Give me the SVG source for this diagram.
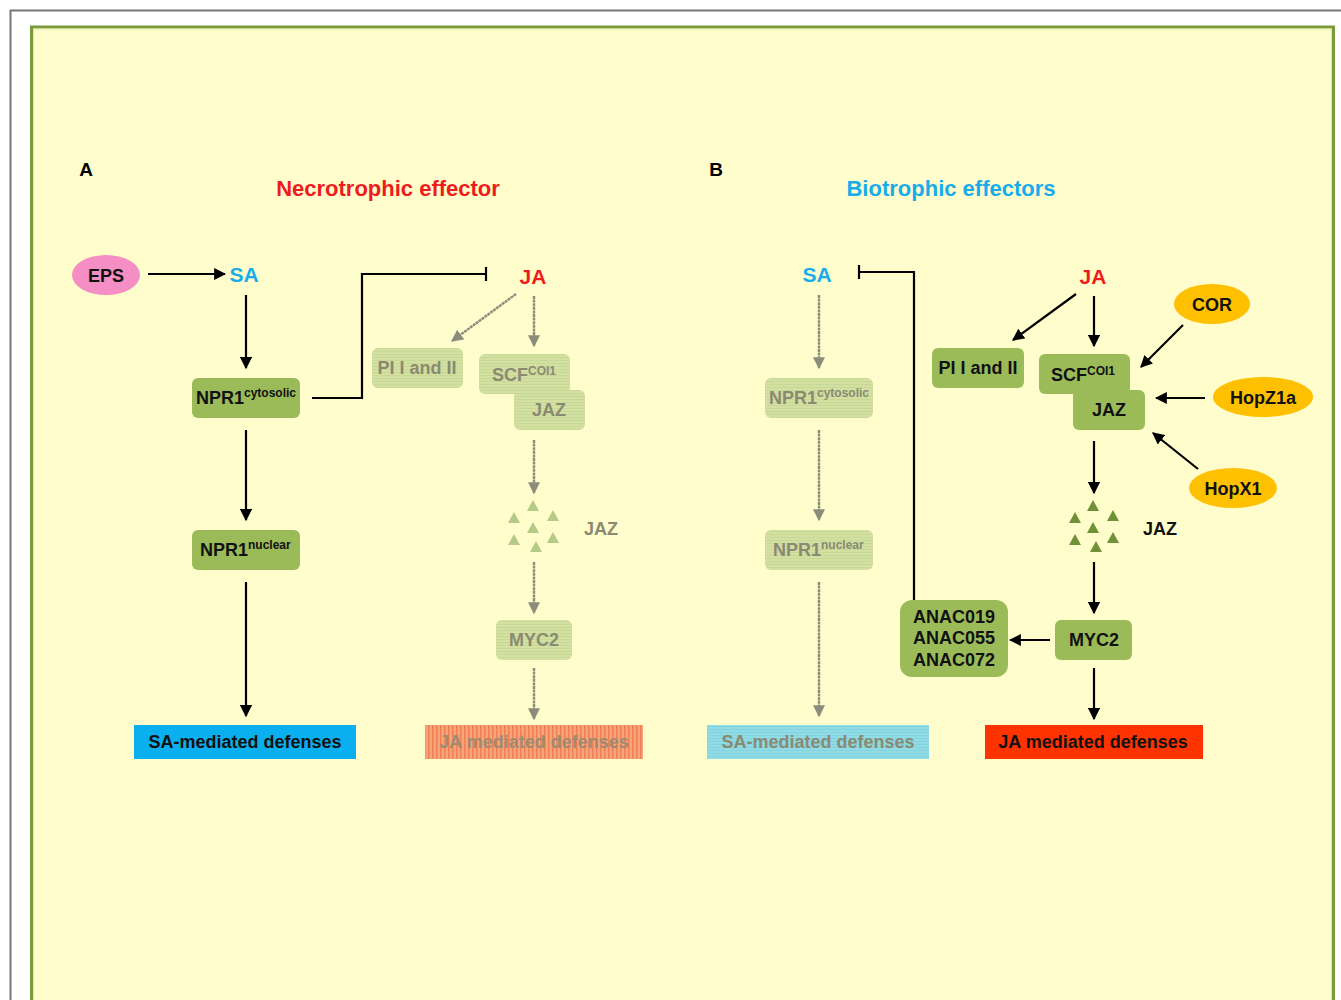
<svg xmlns="http://www.w3.org/2000/svg" width="1341" height="1000" viewBox="0 0 1341 1000">
<defs>
<style>
text{font-family:"Liberation Sans",Arial,sans-serif;font-weight:bold;text-anchor:middle;dominant-baseline:central}
.box{fill:#9BBB59}
.fbox{fill:url(#fgrid)}
.t{font-size:18px;fill:#111}
.ft{font-size:18px;fill:#8A8A72}
.sup{font-size:12px}
.ln{stroke:#000;stroke-width:2.2;fill:none}
.fln{stroke:#8C8C7C;stroke-width:2.4;fill:none;stroke-dasharray:3 0.6}
.tri{fill:#6F9238}
.ftri{fill:#B5CA86}
</style>
<pattern id="fgrid" width="3" height="3" patternUnits="userSpaceOnUse">
<rect width="3" height="3" fill="#D3E0A2"/>
<rect width="3" height="1" fill="#C8D895"/>
</pattern>
<pattern id="fred" width="4" height="4" patternUnits="userSpaceOnUse">
<rect width="4" height="4" fill="#F7A47C"/>
<rect width="1.5" height="4" fill="#EE8052"/>
</pattern>
<pattern id="fblue" width="3" height="3" patternUnits="userSpaceOnUse">
<rect width="3" height="3" fill="#8FDCE6"/>
<rect width="3" height="1" fill="#84D3DE"/>
</pattern>
<marker id="ah" viewBox="0 0 10 10" refX="9" refY="5" markerWidth="5.5" markerHeight="5.5" orient="auto" markerUnits="strokeWidth"><path d="M0,0L10,5L0,10z" fill="#000"/></marker>
<marker id="fah" viewBox="0 0 10 10" refX="9" refY="5" markerWidth="5" markerHeight="5" orient="auto" markerUnits="strokeWidth"><path d="M0,0L10,5L0,10z" fill="#8C8C7C"/></marker>
</defs>
<rect x="0" y="0" width="1341" height="1000" fill="#FFFFFF"/>
<path d="M10.5,1000V10.5H1341" stroke="#777" stroke-width="2" fill="none"/>
<rect x="31.5" y="27" width="1302" height="990" fill="#FEFDCB" stroke="#7A9A3C" stroke-width="3"/>
<rect x="33.5" y="29" width="1298" height="990" fill="none" stroke="#D9E6A6" stroke-width="1"/>

<g id="labels">
<text x="86" y="169" style="font-size:19px;fill:#000">A</text>
<text x="716" y="169" style="font-size:19px;fill:#000">B</text>
<text x="388" y="188" style="font-size:22px;fill:#EE1C1C">Necrotrophic effector</text>
<text x="951" y="188" style="font-size:22px;fill:#1AACEA">Biotrophic effectors</text>
</g>

<g id="connectors">
<!-- Panel A -->
<line class="ln" x1="148" y1="274" x2="225" y2="274" marker-end="url(#ah)"/>
<line class="ln" x1="246" y1="295" x2="246" y2="368" marker-end="url(#ah)"/>
<line class="ln" x1="246" y1="430" x2="246" y2="520" marker-end="url(#ah)"/>
<line class="ln" x1="246" y1="582" x2="246" y2="716" marker-end="url(#ah)"/>
<path class="ln" d="M312,398H362V274H486"/>
<line class="ln" x1="486" y1="267" x2="486" y2="281"/>
<line class="fln" x1="516" y1="294" x2="452" y2="341" marker-end="url(#fah)"/>
<line class="fln" x1="534" y1="296" x2="534" y2="346" marker-end="url(#fah)"/>
<line class="fln" x1="534" y1="440" x2="534" y2="493" marker-end="url(#fah)"/>
<line class="fln" x1="534" y1="562" x2="534" y2="613" marker-end="url(#fah)"/>
<line class="fln" x1="534" y1="668" x2="534" y2="719" marker-end="url(#fah)"/>
<!-- Panel B -->
<line class="fln" x1="819" y1="295" x2="819" y2="368" marker-end="url(#fah)"/>
<line class="fln" x1="819" y1="430" x2="819" y2="520" marker-end="url(#fah)"/>
<line class="fln" x1="819" y1="582" x2="819" y2="716" marker-end="url(#fah)"/>
<path class="ln" d="M914,600V272H859"/>
<line class="ln" x1="859" y1="265" x2="859" y2="279"/>
<line class="ln" x1="1076" y1="294" x2="1013" y2="340" marker-end="url(#ah)"/>
<line class="ln" x1="1094" y1="296" x2="1094" y2="346" marker-end="url(#ah)"/>
<line class="ln" x1="1183" y1="325" x2="1141" y2="367" marker-end="url(#ah)"/>
<line class="ln" x1="1205" y1="398" x2="1156" y2="398" marker-end="url(#ah)"/>
<line class="ln" x1="1198" y1="469" x2="1153" y2="433" marker-end="url(#ah)"/>
<line class="ln" x1="1094" y1="441" x2="1094" y2="493" marker-end="url(#ah)"/>
<line class="ln" x1="1094" y1="562" x2="1094" y2="613" marker-end="url(#ah)"/>
<line class="ln" x1="1050" y1="640" x2="1010" y2="640" marker-end="url(#ah)"/>
<line class="ln" x1="1094" y1="668" x2="1094" y2="719" marker-end="url(#ah)"/>
</g>

<!-- Panel A nodes -->
<g id="a-eps"><ellipse cx="106" cy="275" rx="34" ry="20" fill="#F48EC4"/><text x="106" y="276" style="font-size:18px;fill:#111">EPS</text></g>
<g id="a-sa"><text x="244" y="274" style="font-size:21px;fill:#1AACEA">SA</text></g>
<g id="a-npr1c"><rect class="box" x="192" y="378" width="108" height="40" rx="6"/><text x="196" y="398" class="t" style="text-anchor:start">NPR1<tspan class="sup" dy="-5">cytosolic</tspan></text></g>
<g id="a-npr1n"><rect class="box" x="192" y="530" width="108" height="40" rx="6"/><text x="200" y="550" class="t" style="text-anchor:start">NPR1<tspan class="sup" dy="-5">nuclear</tspan></text></g>
<g id="a-sadef"><rect x="134" y="725" width="222" height="34" fill="#0AAFEF"/><text x="245" y="742" class="t">SA-mediated defenses</text></g>
<g id="a-ja"><text x="533" y="276" style="font-size:21px;fill:#EE1C1C">JA</text></g>
<g id="a-pi"><rect class="fbox" x="372" y="348" width="91" height="40" rx="6"/><text x="417" y="368" class="ft">PI I and II</text></g>
<g id="a-scf"><rect class="fbox" x="479" y="354" width="91" height="40" rx="6"/><rect class="fbox" x="514" y="390" width="71" height="40" rx="6"/><text x="492" y="375" class="ft" style="text-anchor:start">SCF<tspan class="sup" dy="-4">COI1</tspan></text><text x="549" y="410" class="ft">JAZ</text></g>
<g id="a-jaz">
<path class="ftri" d="M533,500l6,11h-12z M514,512l6,11h-12z M553,510l6,11h-12z M533,522l6,11h-12z M514,534l6,11h-12z M553,532l6,11h-12z M536,541l6,11h-12z"/>
<text x="601" y="529" class="ft">JAZ</text></g>
<g id="a-myc2"><rect class="fbox" x="496" y="620" width="76" height="40" rx="6"/><text x="534" y="640" class="ft">MYC2</text></g>
<g id="a-jadef"><rect x="425" y="725" width="218" height="34" fill="url(#fred)"/><text x="534" y="742" class="ft" style="fill:#A08A70">JA mediated defenses</text></g>

<!-- Panel B nodes -->
<g id="b-sa"><text x="817" y="274" style="font-size:21px;fill:#1AACEA">SA</text></g>
<g id="b-npr1c"><rect class="fbox" x="765" y="378" width="108" height="40" rx="6"/><text x="769" y="398" class="ft" style="text-anchor:start">NPR1<tspan class="sup" dy="-5">cytosolic</tspan></text></g>
<g id="b-npr1n"><rect class="fbox" x="765" y="530" width="108" height="40" rx="6"/><text x="773" y="550" class="ft" style="text-anchor:start">NPR1<tspan class="sup" dy="-5">nuclear</tspan></text></g>
<g id="b-sadef"><rect x="707" y="725" width="222" height="34" fill="url(#fblue)"/><text x="818" y="742" class="ft">SA-mediated defenses</text></g>
<g id="b-ja"><text x="1093" y="276" style="font-size:21px;fill:#EE1C1C">JA</text></g>
<g id="b-pi"><rect class="box" x="932" y="348" width="92" height="40" rx="6"/><text x="978" y="368" class="t">PI I and II</text></g>
<g id="b-scf"><rect class="box" x="1039" y="354" width="91" height="40" rx="6"/><rect class="box" x="1073" y="390" width="72" height="40" rx="6"/><text x="1051" y="375" class="t" style="text-anchor:start">SCF<tspan class="sup" dy="-4">COI1</tspan></text><text x="1109" y="410" class="t">JAZ</text></g>
<g id="b-cor"><ellipse cx="1212" cy="304" rx="38" ry="20" fill="#FFC000"/><text x="1212" y="305" class="t">COR</text></g>
<g id="b-hopz1a"><ellipse cx="1263" cy="397" rx="50" ry="20" fill="#FFC000"/><text x="1263" y="398" class="t">HopZ1a</text></g>
<g id="b-hopx1"><ellipse cx="1233" cy="488" rx="44" ry="20" fill="#FFC000"/><text x="1233" y="489" class="t">HopX1</text></g>
<g id="b-jaz">
<path class="tri" d="M1093,500l6,11h-12z M1075,512l6,11h-12z M1113,510l6,11h-12z M1093,522l6,11h-12z M1075,534l6,11h-12z M1113,532l6,11h-12z M1096,541l6,11h-12z"/>
<text x="1160" y="529" class="t">JAZ</text></g>
<g id="b-myc2"><rect class="box" x="1055" y="620" width="77" height="40" rx="6"/><text x="1094" y="640" class="t">MYC2</text></g>
<g id="b-anac"><rect class="box" x="900" y="600" width="108" height="77" rx="12"/><text x="954" y="617" class="t">ANAC019</text><text x="954" y="638" class="t">ANAC055</text><text x="954" y="660" class="t">ANAC072</text></g>
<g id="b-jadef"><rect x="985" y="725" width="218" height="34" fill="#FF3300"/><text x="1093" y="742" class="t">JA mediated defenses</text></g>
</svg>
